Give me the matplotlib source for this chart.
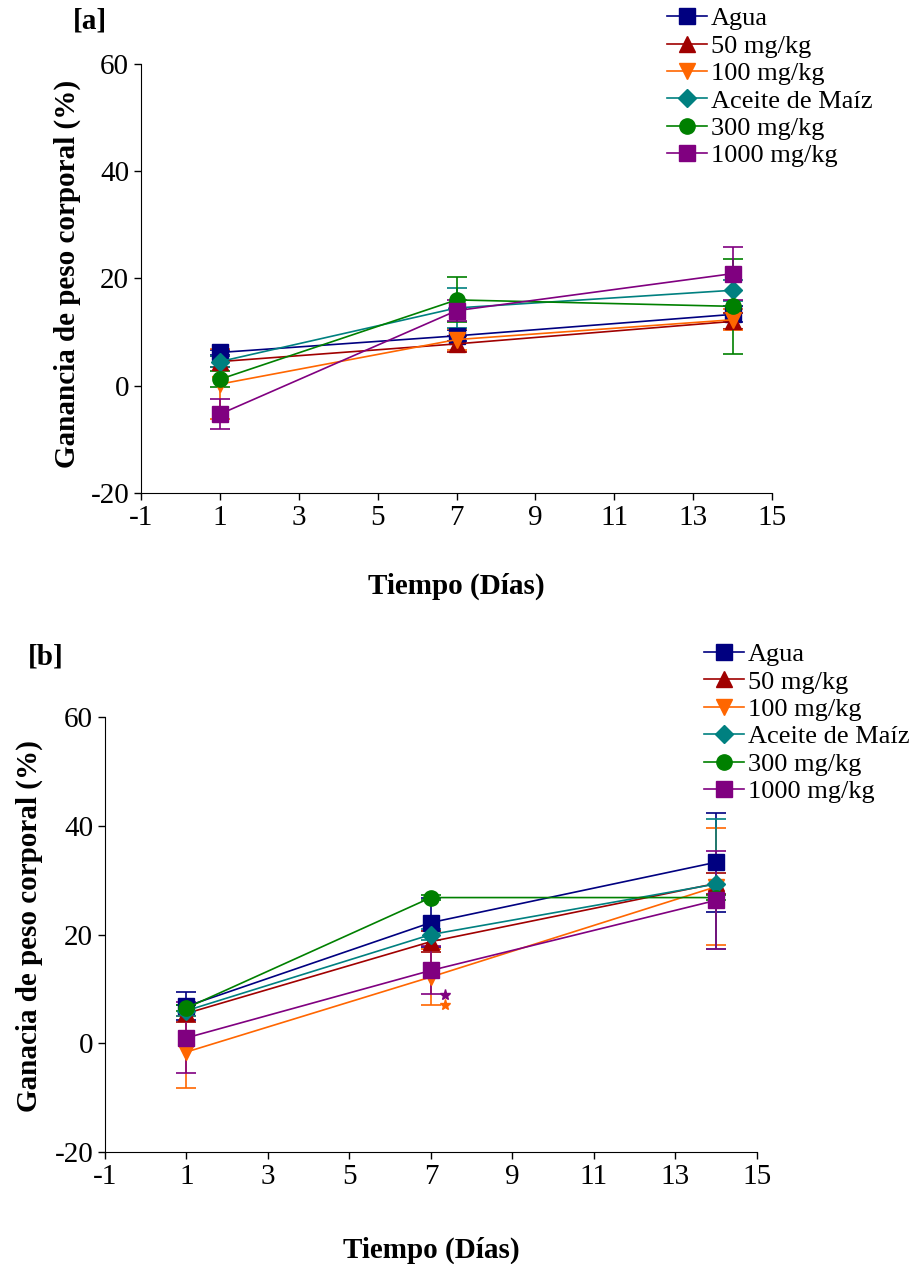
import numpy as np
import matplotlib.pyplot as plt

plt.rcParams['font.family'] = ['Liberation Serif', 'DejaVu Serif']
plt.rcParams['axes.unicode_minus'] = False

DAYS = [1, 7, 14]
LABELS = ['Agua', '50 mg/kg', '100 mg/kg', 'Aceite de Maíz', '300 mg/kg', '1000 mg/kg']
COLORS = ['#000080', '#A00000', '#FF6600', '#008080', '#008000', '#800080']
MARKERS = ['s', '^', 'v', 'D', 'o', 's']
MSIZES = [12, 11, 11, 9, 11, 12]

# panel [a]
a_agua = [6.2, 9.3, 13.3]
a_50 = [4.5, 7.8, 12.0]
a_100 = [0.3, 8.6, 12.3]
a_aceite = [4.5, 14.5, 17.8]
a_300 = [1.2, 16.0, 14.8]
a_1000 = [-5.3, 14.0, 20.9]
a_err = [[0.5, 1.0, 1.5],
         [1.0, 1.5, 1.5],
         [6.5, 2.0, 2.0],
         [1.0, 3.8, 2.0],
         [1.5, 4.2, 8.8],
         [2.8, 2.0, 5.0]]

# panel [b]
b_agua = [6.8, 22.2, 33.3]
b_50 = [5.5, 18.7, 29.4]
b_100 = [-1.6, 12.2, 28.8]
b_aceite = [6.0, 20.0, 29.3]
b_300 = [6.5, 26.8, 26.8]
b_1000 = [1.0, 13.4, 26.3]
b_err = [[2.6, 4.5, 9.1],
         [1.5, 2.0, 2.0],
         [6.6, 5.2, 10.8],
         [1.0, 1.0, 11.9],
         [0.5, 0.5, 0.5],
         [6.5, 4.4, 9.0]]

# significance stars in [b]
star_x = [7.35, 7.35]
star_y = [8.8, 7.0]
star_colors = ['#800080', '#FF6600']


def draw_panel(ax, series, errs, ylabel, tag, tag_pos, leg_anchor, ylpos, xlpad):
  for i, vals in enumerate(series):
    ax.errorbar(DAYS, vals, yerr=errs[i], color=COLORS[i], marker=MARKERS[i],
                markersize=MSIZES[i], linewidth=1.2, elinewidth=1.2,
                capsize=7, capthick=1.2, label=LABELS[i])
  ax.set_xlim(-1, 15)
  ax.set_ylim(-20, 60)
  ax.set_xticks(range(-1, 16, 2))
  ax.set_yticks(range(-20, 61, 20))
  ax.tick_params(labelsize=21, length=5, width=1.0, direction='out')
  for s in ['top', 'right']:
    ax.spines[s].set_visible(False)
  ax.set_ylabel(ylabel, fontsize=21, fontweight='bold')
  ax.yaxis.set_label_coords(ylpos[0], ylpos[1])
  ax.set_xlabel('Tiempo (Días)', fontsize=21, fontweight='bold', labelpad=xlpad)
  fig.text(tag_pos[0], tag_pos[1], tag, fontsize=21, fontweight='bold',
           ha='center', va='center')
  handles, labels = ax.get_legend_handles_labels()
  handles = [h[0] for h in handles]
  fig.legend(handles, labels, loc='upper left', bbox_to_anchor=leg_anchor,
             frameon=False, fontsize=19, handlelength=1.5, handletextpad=0.15,
             labelspacing=0.15, borderpad=0)


fig = plt.figure(figsize=(9.2, 12.64), dpi=100)

ax_a = fig.add_axes([0.1533, 0.6100, 0.686, 0.3394])
draw_panel(ax_a, [a_agua, a_50, a_100, a_aceite, a_300, a_1000], a_err,
           'Ganancia de peso corporal (%)', '[a]', (0.098, 0.983), (0.711, 1.005),
           (-0.095, 0.51), 30)

ax_b = fig.add_axes([0.1141, 0.0886, 0.7087, 0.3441])
draw_panel(ax_b, [b_agua, b_50, b_100, b_aceite, b_300, b_1000], b_err,
           'Ganacia de peso corporal (%)', '[b]', (0.050, 0.480), (0.751, 0.502),
           (-0.095, 0.52), 34)
for x, y, c in zip(star_x, star_y, star_colors):
  ax_b.plot(x, y, marker='*', color=c, markersize=8, linestyle='none')

fig.savefig('out.png', dpi=100)
